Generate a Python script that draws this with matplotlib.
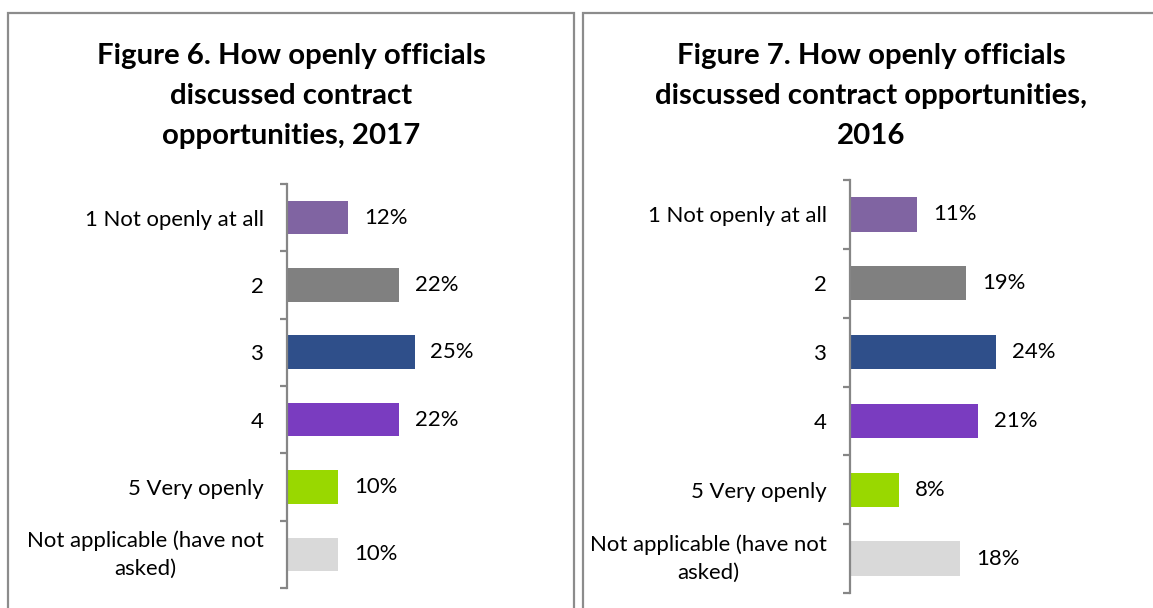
import matplotlib
matplotlib.use("Agg")
import matplotlib.pyplot as plt
from matplotlib.patches import Rectangle
from matplotlib.ticker import FixedLocator

plt.rcParams["font.family"] = ["Lato", "DejaVu Sans"]

categories = ["1 Not openly at all", "2", "3", "4", "5 Very openly",
              "Not applicable (have not\nasked)"]
values_2017 = [12, 22, 25, 22, 10, 10]
values_2016 = [11, 19, 24, 21, 8, 18]
bar_colors = ["#8064A2", "#808080", "#2F4F8A", "#7A3CC0", "#99D800", "#D9D9D9"]
titles = [
    ["Figure 6. How openly officials", "discussed contract", "opportunities, 2017"],
    ["Figure 7. How openly officials", "discussed contract opportunities,", "2016"],
]

W, H = 1153, 608
fig = plt.figure(figsize=(W / 100, H / 100), dpi=100)
fig.patch.set_facecolor("white")

AXIS_GRAY = "#868686"
BORDER_GRAY = "#8C8C8C"
LABEL_SIZE = 15.9
TITLE_SIZE = 21.2


def px_rect(x0, y_top, x1, y_bottom):
    """Convert pixel box (origin top-left) to figure fraction [l, b, w, h]."""
    return [x0 / W, 1 - y_bottom / H, (x1 - x0) / W, (y_bottom - y_top) / H]


# Panel frames (they continue below the bottom edge of the figure)
for x0, x1 in [(7.5, 574), (583.5, 1170)]:
    fig.add_artist(Rectangle((x0 / W, -0.2), (x1 - x0) / W, 1.2 - 13 / H,
                             transform=fig.transFigure, fill=False,
                             edgecolor=BORDER_GRAY, linewidth=1.6))

panels = [
    dict(values=values_2017, box=(287, 184, 588), ppu=5.1, title=titles[0], cx=291),
    dict(values=values_2016, box=(850, 180, 593), ppu=6.1, title=titles[1], cx=871),
]

xmax = 30
for p in panels:
    x0, y_top, y_bot = p["box"]
    x1 = x0 + xmax * p["ppu"]
    ax = fig.add_axes(px_rect(x0, y_top, x1, y_bot))
    ypos = list(range(len(categories)))
    bars = ax.barh(ypos, p["values"], height=0.5, color=bar_colors)
    ax.bar_label(bars, labels=[f"{v}%" for v in p["values"]], padding=11.5,
                 fontsize=LABEL_SIZE, color="black")
    ax.set_xlim(0, xmax)
    ax.set_ylim(len(categories) - 0.5, -0.5)
    for side in ["top", "right", "bottom"]:
        ax.spines[side].set_visible(False)
    ax.spines["left"].set_color(AXIS_GRAY)
    ax.spines["left"].set_linewidth(1.6)
    ax.set_xticks([])
    # tick marks at category boundaries, labels at category centres
    ax.yaxis.set_major_locator(FixedLocator([i - 0.5 for i in range(len(categories) + 1)]))
    ax.yaxis.set_minor_locator(FixedLocator(ypos))
    ax.set_yticklabels([], minor=False)
    ax.set_yticks(ypos, categories, minor=True)
    ax.tick_params(axis="y", which="major", length=5, width=1.6, color=AXIS_GRAY,
                   direction="out")
    ax.tick_params(axis="y", which="minor", length=0, pad=16.5, labelsize=LABEL_SIZE)
    for lbl in ax.get_yticklabels(minor=True):
        if "\n" in lbl.get_text():
            lbl.set_multialignment("center")
            lbl.set_linespacing(1.5)
            lbl.set_verticalalignment("center")
    ax.set_facecolor("none")

    # Title lines
    for i, line in enumerate(p["title"]):
        fig.text(p["cx"] / W, 1 - (64 + 40 * i) / H, line, ha="center",
                 va="baseline", fontsize=TITLE_SIZE, fontweight="bold", color="black")

fig.savefig("out.png", dpi=100, facecolor="white")
